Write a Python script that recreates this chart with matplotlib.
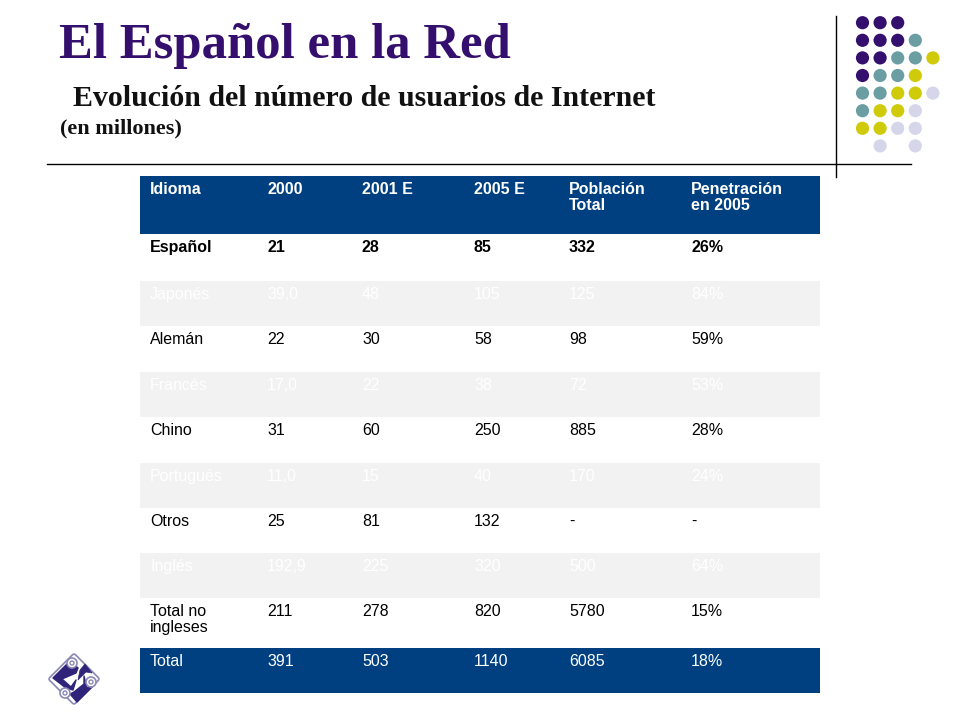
import matplotlib
matplotlib.use("Agg")
import matplotlib.pyplot as plt
from matplotlib.patches import Rectangle, Circle, Polygon

title = "El Español en la Red"
subtitle = "Evolución del número de usuarios de Internet"
unit = "(en millones)"

header = ["Idioma", "2000", "2001 E", "2005 E", "Población\nTotal", "Penetración\nen 2005"]
languages = ["Español", "Japonés", "Alemán", "Francés", "Chino", "Portugués", "Otros", "Inglés", "Total no\ningleses", "Total"]
y2000 = ["21", "39,0", "22", "17,0", "31", "11,0", "25", "192,9", "211", "391"]
y2001 = ["28", "48", "30", "22", "60", "15", "81", "225", "278", "503"]
y2005 = ["85", "105", "58", "38", "250", "40", "132", "320", "820", "1140"]
population = ["332", "125", "98", "72", "885", "170", "-", "500", "5780", "6085"]
penetration = ["26%", "84%", "59%", "53%", "28%", "24%", "-", "64%", "15%", "18%"]

dot_rows = ["PPP  ", "PPPT ", "PPTTY", "PTTY ", "TTYYL", "TYYL ", "YYLL ", " L L "]
dot_colors = {"P": "#350f6e", "T": "#6a9ea3", "Y": "#cfcb0a", "L": "#d5d6ea"}

BLUE = "#004080"
GREY = "#f2f2f2"
col_x = [150, 267, 362, 474, 569, 691]
row_edges = [176, 234, 281, 326, 372, 417, 463, 508, 553, 598, 648, 693]
row_fill = [BLUE, "white", GREY, "white", GREY, "white", GREY, "white", GREY, "white", BLUE]

fig = plt.figure(figsize=(9.6, 7.2), dpi=100, facecolor="white")
ax = fig.add_axes([0, 0, 1, 1])
ax.set_xlim(0, 960)
ax.set_ylim(720, 0)
ax.axis("off")

sans = "Liberation Sans"
serif = "Liberation Serif"
ax.text(59, 46, title, family=serif, weight="bold", fontsize=36.5, color="#350f6e", va="center")
ax.text(73, 98, subtitle, family=serif, weight="bold", fontsize=21.5, color="#111111", va="center")
ax.text(60, 128, unit, family=serif, weight="bold", fontsize=16, color="#111111", va="center")

ax.plot([47, 911], [164, 164], color="black", lw=1)
ax.plot([836, 836], [16, 177], color="black", lw=1)

for r, row in enumerate(dot_rows):
    for c, key in enumerate(row):
        if key != " ":
            ax.add_patch(Circle((862.5 + 17.6 * c, 22.7 + 17.6 * r), 6.6, fc=dot_colors[key], ec="none"))

rows = [header] + [list(t) for t in zip(languages, y2000, y2001, y2005, population, penetration)]
for i, cells in enumerate(rows):
    top, bottom = row_edges[i], row_edges[i + 1]
    ax.add_patch(Rectangle((140, top), 680, bottom - top, fc=row_fill[i], ec="none"))
    fill = row_fill[i]
    color = "white" if fill != "white" else "black"
    bold = i in (0, 1)
    for x, cell in zip(col_x, cells):
        ax.text(x, top + 6, cell, family=sans, fontsize=11.5, color=color,
                weight="bold" if bold else "normal", va="top", ha="left", linespacing=1.12)

# logo
ax.add_patch(Polygon([(74, 656), (97, 679), (74, 702), (51, 679)], closed=True, fc="white", ec="#8d89b5", lw=4, joinstyle="round"))
ax.add_patch(Polygon([(74, 656), (97, 679), (74, 702), (51, 679)], closed=True, fc="white", ec="white", lw=1.5, joinstyle="round"))
ax.add_patch(Polygon([(53, 678), (70, 661), (78, 668), (76, 673), (62, 679), (71, 687), (76, 680), (73, 690), (66, 688)],
                     closed=True, fc="#2f2479", ec="#2f2479", lw=1, joinstyle="round"))
ax.add_patch(Polygon([(77, 702), (70, 694), (74, 692), (84, 684), (84, 676), (87, 688), (93, 686), (81, 698)],
                     closed=True, fc="#2f2479", ec="#2f2479", lw=1, joinstyle="round"))
ax.add_patch(Polygon([(80, 670), (85, 664), (92, 673), (86, 672), (78, 680)],
                     closed=True, fc="#2f2479", ec="#2f2479", lw=0.5))
for cx, cy in [(72, 663), (91, 682), (65, 693)]:
    ax.add_patch(Circle((cx, cy), 5, fc="white", ec="#8d89b5", lw=1.2))
    ax.add_patch(Circle((cx, cy), 2, fc="white", ec="#8d89b5", lw=1))

fig.savefig("out.png", dpi=100)
